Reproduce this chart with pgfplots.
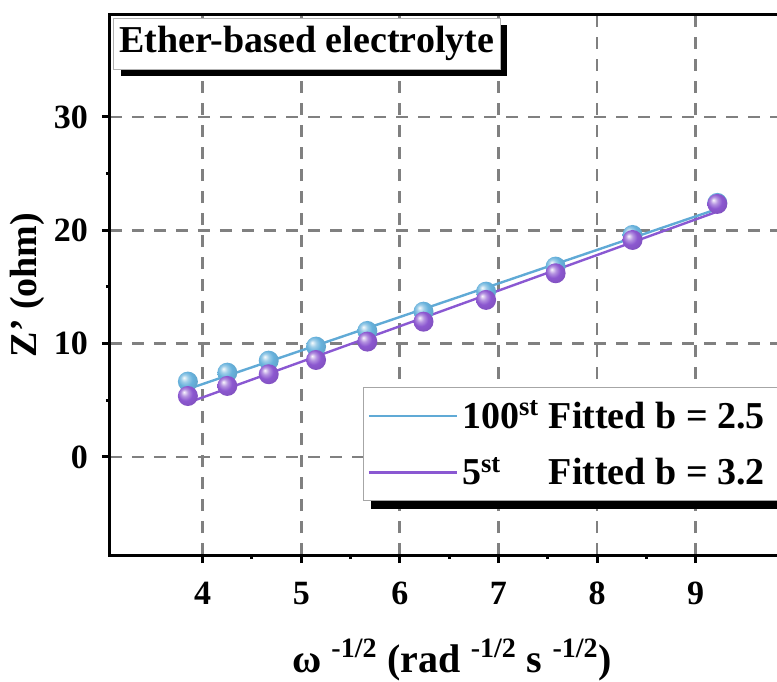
\documentclass[border=0pt]{standalone}
\usepackage{fontspec}
\setmainfont{Liberation Serif}
\usepackage{pgfplots}
\usepackage{pgfplotstable}
\pgfplotsset{compat=1.18}
\usetikzlibrary{shadows}

\definecolor{fitblue}{RGB}{96,170,214}
\definecolor{fitpurple}{RGB}{138,88,210}
\definecolor{ballblue}{RGB}{104,178,220}
\definecolor{ballpurple}{RGB}{140,88,208}
\definecolor{gridgray}{RGB}{128,128,128}

% softer sphere shading: bright highlight, no black rim
\makeatletter
\pgfdeclareradialshading[tikz@ball]{ball}{\pgfqpoint{-10bp}{10bp}}{%
  color(0bp)=(tikz@ball!5!white);
  color(9bp)=(tikz@ball!65!white);
  color(18bp)=(tikz@ball);
  color(30bp)=(tikz@ball!92!black);
  color(50bp)=(tikz@ball!80!black)}
\makeatother

% Z' versus omega^{-1/2}, cycle 100 and cycle 5
\pgfplotstableread{
x y
3.85 6.65
4.25 7.44
4.67 8.50
5.15 9.74
5.67 11.12
6.24 12.82
6.875 14.59
7.58 16.80
8.36 19.59
9.22 22.42
}\cyclehundred

\pgfplotstableread{
x y
3.85 5.38
4.25 6.27
4.67 7.30
5.15 8.56
5.67 10.18
6.24 11.94
6.875 13.86
7.58 16.21
8.36 19.15
9.22 22.33
}\cyclefive

\begin{document}
\begin{tikzpicture}
\useasboundingbox (-55pt,-63pt) rectangle (333.5pt,277.5pt);
\clip (-55pt,-63pt) rectangle (333.5pt,277.5pt);
\begin{axis}[
  name=ax,
  at={(0,0)}, anchor=south west,
  scale only axis, width=342.1pt, height=270pt,
  xmin=3.06, xmax=10, ymin=-8.65, ymax=39,
  xtick={4,5,6,7,8,9}, ytick={0,10,20,30},
  minor x tick num=1, minor y tick num=1,
  tick pos=left, tick align=outside,
  major tick length=4pt, minor tick length=2pt,
  every tick/.append style={black, line width=1.5pt},
  axis line style={line width=1.5pt},
  grid=major,
  major grid style={gridgray, line width=1.4pt, dash pattern=on 6pt off 5pt},
  /pgf/number format/assume math mode=true,
  tick label style={font=\fontsize{17}{20}\selectfont\bfseries},
  xticklabel shift=6pt,
  yticklabel shift=3.5pt,
  xlabel={ω \textsuperscript{-1/2} (rad \textsuperscript{-1/2} s \textsuperscript{-1/2})},
  ylabel={Z’ (ohm)},
  xlabel style={at={(axis description cs:0.5,0)}, anchor=center, yshift=-52.5pt,
    font=\fontsize{20}{24}\selectfont\bfseries},
  ylabel style={at={(axis description cs:-0.1213,0.5)}, anchor=center,
    font=\fontsize{19}{23}\selectfont\bfseries},
  legend style={name=leg, at={(0.37,0.311)}, anchor=north west,
    draw=gray!70, fill=white, line width=0.6pt,
    font=\fontsize{19}{23}\selectfont\bfseries,
    inner xsep=2pt, inner ysep=4.5pt, row sep=9pt},
  legend cell align=left,
  legend image code/.code={\draw[#1, line width=1.2pt] (0pt,0pt) -- (44pt,0pt);},
]
% measured points
\addplot[only marks, mark=ball, mark size=5pt,
  mark options={ball color=ballblue, draw opacity=0}, forget plot]
  table[x=x, y=y] {\cyclehundred};
\addplot[only marks, mark=ball, mark size=5pt,
  mark options={ball color=ballpurple, draw opacity=0}, forget plot]
  table[x=x, y=y] {\cyclefive};
% linear fits
\addplot[fitblue, line width=1.2pt, no marks] coordinates {(3.88,6.08) (9.22,21.88)};
\addlegendentry{\makebox[180pt][l]{100\textsuperscript{st} Fitted b = 2.5}}
\addplot[fitpurple, line width=1.2pt, no marks] coordinates {(3.88,4.88) (9.22,21.65)};
\addlegendentry{\makebox[180pt][l]{5\textsuperscript{st}\phantom{00} Fitted b = 3.2}}
\end{axis}
% shadow strip under the legend box
\fill[black] ([xshift=4pt,yshift=-4pt]leg.south west) rectangle ([xshift=4pt]leg.south east);
\node[draw=gray!60, fill=white, line width=0.5pt, anchor=north west,
  inner xsep=3pt, inner ysep=4pt, font=\fontsize{19}{23}\selectfont\bfseries,
  drop shadow={shadow xshift=3.5pt, shadow yshift=-3.5pt, fill=black, opacity=1}]
  at ([xshift=1.5pt,yshift=-1.5pt]ax.north west) {Ether-based electrolyte};
\end{tikzpicture}
\end{document}
